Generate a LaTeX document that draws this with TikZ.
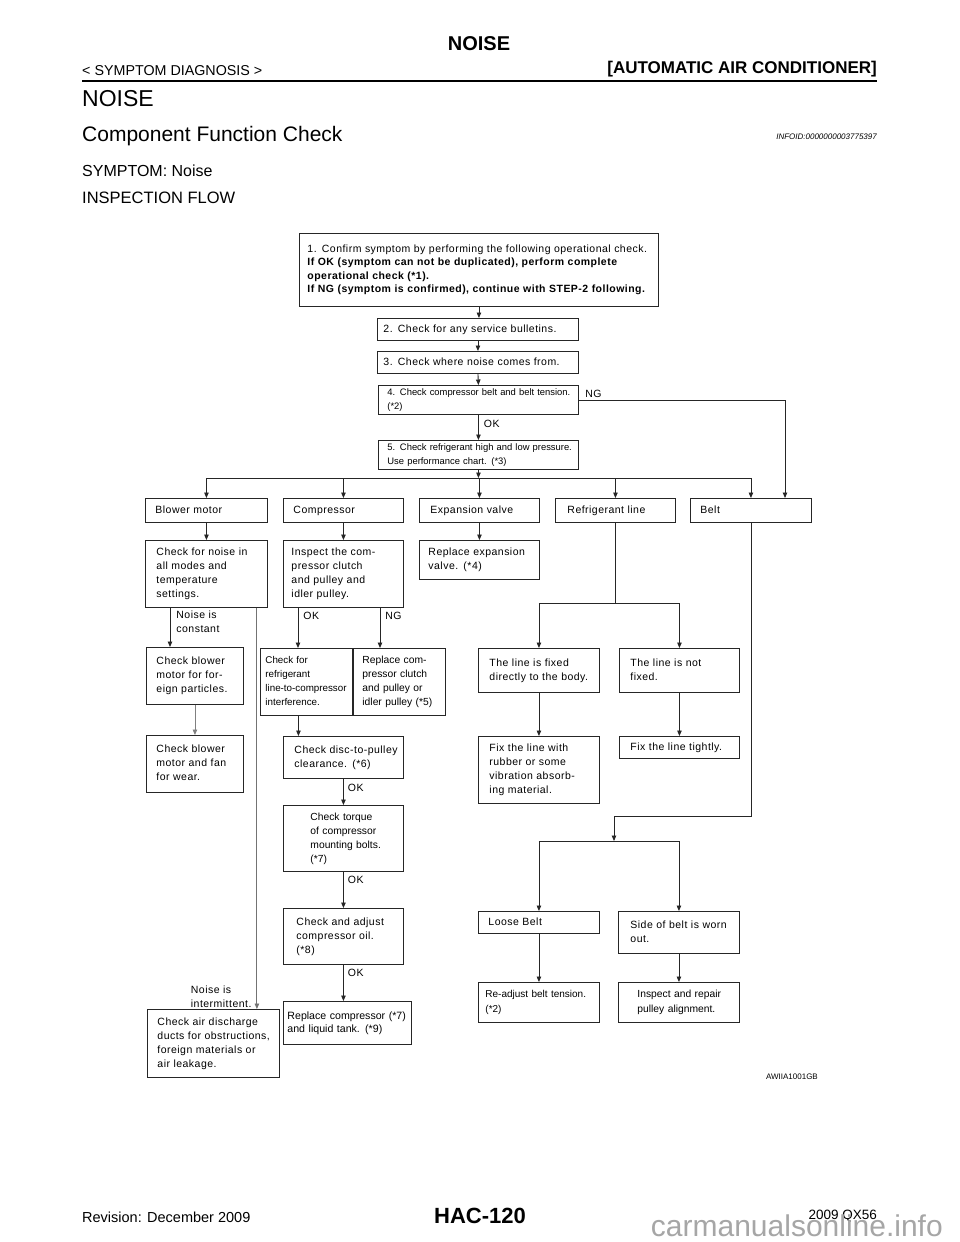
\documentclass[tikz,border=0pt]{standalone}
\usepackage{fontspec}
\setmainfont{Liberation Sans}
\newfontfamily\spfam[LetterSpace=4.5]{Liberation Sans}
\usetikzlibrary{arrows.meta}
\newcommand\FSp{\spfam\fontsize{10.5}{14}\selectfont}
\newcommand\FPl{\fontsize{10.3}{14}\selectfont}
\newcommand\lns[1]{\begin{tabular}{@{}l@{}}#1\end{tabular}}
\tikzset{
  box/.style={draw=black!85, line width=0.9pt, anchor=north west, inner ysep=0pt, align=left},
  arr/.style={draw=black!85, line width=0.9pt, -{Triangle[length=5.5pt,width=4.5pt]}},
  ln/.style={draw=black!85, line width=0.9pt},
  lab/.style={font=\FSp, inner sep=0pt, align=left},
  txt/.style={inner sep=0pt}
}
\begin{document}
\begin{tikzpicture}[x=1pt,y=-1pt]
\fill[white] (0,0) rectangle (960,1242);
\useasboundingbox (0,0) rectangle (960,1242);

% ---------- header ----------
\node[txt, anchor=base, font=\bfseries\fontsize{20}{24}\selectfont] (title) at (479,50) {NOISE};
\node[txt, anchor=base west, font=\fontsize{14.3}{17}\selectfont] (sec) at (82,75) {< SYMPTOM DIAGNOSIS >};
\node[txt, anchor=base east, font=\bfseries\fontsize{17}{20}\selectfont] (cat) at (877,73) {[AUTOMATIC AIR CONDITIONER]};
\draw[line width=2.5pt] (82,81) -- (877,81);
\node[txt, anchor=base west, font=\fontsize{23}{26}\selectfont] (h1) at (82,106) {NOISE};
\node[txt, anchor=base west, font=\fontsize{21}{24}\selectfont] (h2) at (82,141) {Component Function Check};
\node[txt, anchor=base east, font=\itshape\fontsize{8}{10}\selectfont] (info) at (877,139) {INFOID:0000000003775397};
\node[txt, anchor=base west, font=\fontsize{16}{19}\selectfont] (sym) at (82,176) {SYMPTOM: Noise};
\node[txt, anchor=base west, font=\fontsize{16.5}{19}\selectfont] (flow) at (82,203) {INSPECTION FLOW};

% ---------- boxes ----------
\node[box, font=\spfam\fontsize{10.5}{13.5}\selectfont, minimum width=359pt, minimum height=73pt, inner xsep=8pt, text width=343pt] (B1) at (299,233)
 {\lns{1. Confirm symptom by performing the following operational check.\\
 \bfseries If OK (symptom can not be duplicated), perform complete\\
 \bfseries operational check (*1).\\
 \bfseries If NG (symptom is confirmed), continue with STEP-2 following.}};
\node[box, font=\FSp, minimum width=201pt, minimum height=22pt, inner xsep=6pt, text width=189pt] (B2) at (377,318) {\lns{2. Check for any service bulletins.}};
\node[box, font=\FSp, minimum width=201pt, minimum height=22pt, inner xsep=6pt, text width=189pt] (B3) at (377,351) {\lns{3. Check where noise comes from.}};
\node[box, font=\fontsize{9.4}{14}\selectfont, minimum width=200pt, minimum height=29pt, inner xsep=9pt, text width=182pt] (B4) at (378,385) {\lns{4. Check compressor belt and belt tension.\\(*2)}};
\node[box, font=\fontsize{9.4}{14}\selectfont, minimum width=200pt, minimum height=29pt, inner xsep=9pt, text width=182pt] (B5) at (378,440) {\lns{5. Check refrigerant high and low pressure.\\Use performance chart. (*3)}};

\node[box, font=\FSp, minimum width=122pt, minimum height=24pt, inner xsep=10pt, text width=102pt] (R1) at (145,498) {\lns{Blower motor}};
\node[box, font=\FSp, minimum width=120pt, minimum height=24pt, inner xsep=10pt, text width=100pt] (R2) at (283,498) {\lns{Compressor}};
\node[box, font=\FSp, minimum width=120pt, minimum height=24pt, inner xsep=11pt, text width=98pt] (R3) at (419,498) {\lns{Expansion valve}};
\node[box, font=\FSp, minimum width=120pt, minimum height=24pt, inner xsep=12pt, text width=96pt] (R4) at (555,498) {\lns{Refrigerant line}};
\node[box, font=\FSp, minimum width=121pt, minimum height=24pt, inner xsep=10pt, text width=101pt] (R5) at (690,498) {\lns{Belt}};

\node[box, font=\FSp, minimum width=122pt, minimum height=67pt, inner xsep=11pt, text width=100pt] (C1) at (145,540) {\lns{Check for noise in\\all modes and\\temperature\\settings.}};
\node[box, font=\FSp, minimum width=120pt, minimum height=67pt, inner xsep=8pt, text width=104pt] (C2) at (283,540) {\lns{Inspect the com-\\pressor clutch\\and pulley and\\idler pulley.}};
\node[box, font=\FSp, minimum width=120pt, minimum height=39pt, inner xsep=9pt, text width=102pt] (C3) at (419,540) {\lns{Replace expansion\\valve. (*4)}};

\node[box, font=\FSp, minimum width=97pt, minimum height=57pt, inner xsep=10pt, text width=77pt] (D1) at (146,647) {\lns{Check blower\\motor for for-\\eign particles.}};
\node[box, font=\FSp, minimum width=97pt, minimum height=57pt, inner xsep=10pt, text width=77pt] (E1) at (146,735) {\lns{Check blower\\motor and fan\\for wear.}};
\node[box, font=\fontsize{9.8}{14}\selectfont, minimum width=92pt, minimum height=67pt, inner xsep=5pt, text width=82pt] (D2) at (260,648) {\lns{Check for\\refrigerant\\line-to-compressor\\interference.}};
\node[box, font=\fontsize{10.3}{14}\selectfont, minimum width=92pt, minimum height=67pt, inner xsep=9pt, text width=74pt] (D3) at (353,648) {\lns{Replace com-\\pressor clutch\\and pulley or\\idler pulley (*5)}};
\node[box, font=\FSp, minimum width=120pt, minimum height=42pt, inner xsep=11pt, text width=98pt] (E2) at (283,736) {\lns{Check disc-to-pulley\\clearance. (*6)}};
\node[box, font=\FPl, minimum width=120pt, minimum height=66pt, inner xsep=27pt, text width=66pt] (F) at (283,805) {\lns{Check torque\\of compressor\\mounting bolts.\\(*7)}};
\node[box, font=\FSp, minimum width=120pt, minimum height=56pt, inner xsep=13pt, text width=94pt] (G) at (283,908) {\lns{Check and adjust\\compressor oil.\\(*8)}};
\node[box, font=\fontsize{10.6}{13}\selectfont, minimum width=128pt, minimum height=43pt, inner xsep=4pt, text width=120pt] (H) at (283,1001) {\lns{Replace compressor (*7)\\and liquid tank. (*9)}};
\node[box, font=\FSp, minimum width=132pt, minimum height=68pt, inner xsep=10pt, text width=112pt] (I) at (147,1009) {\lns{Check air discharge\\ducts for obstructions,\\foreign materials or\\air leakage.}};

\node[box, font=\FSp, minimum width=121pt, minimum height=44pt, inner xsep=11pt, text width=99pt] (L1) at (478,648) {\lns{The line is fixed\\directly to the body.}};
\node[box, font=\FSp, minimum width=120pt, minimum height=44pt, inner xsep=11pt, text width=98pt] (L2) at (619,648) {\lns{The line is not\\fixed.}};
\node[box, font=\FSp, minimum width=121pt, minimum height=67pt, inner xsep=11pt, text width=99pt] (M1) at (478,736) {\lns{Fix the line with\\rubber or some\\vibration absorb-\\ing material.}};
\node[box, font=\FSp, minimum width=120pt, minimum height=22pt, inner xsep=11pt, text width=98pt] (M2) at (619,736) {\lns{Fix the line tightly.}};
\node[box, font=\FSp, minimum width=121pt, minimum height=22pt, inner xsep=10pt, text width=101pt] (N1) at (478,911) {\lns{Loose Belt}};
\node[box, font=\FSp, minimum width=121pt, minimum height=42pt, inner xsep=12pt, text width=97pt] (N2) at (618,911) {\lns{Side of belt is worn\\out.}};
\node[box, font=\fontsize{10}{15}\selectfont, minimum width=121pt, minimum height=40pt, inner xsep=7pt, text width=107pt] (P1) at (478,982) {\lns{Re-adjust belt tension.\\(*2)}};
\node[box, font=\fontsize{10.3}{15}\selectfont, minimum width=121pt, minimum height=40pt, inner xsep=19pt, text width=83pt] (P2) at (618,982) {\lns{Inspect and repair\\pulley alignment.}};

% ---------- helper coordinates ----------
\coordinate (bus) at (0,478);
\coordinate (rbus) at (0,603);
\coordinate (bturn) at (614,816);
\coordinate (bbus) at (0,841);
\coordinate (ngx) at (785,0);
\coordinate (c1a) at ([xshift=25pt]C1.south west);
\coordinate (c1b) at ([xshift=-11pt]C1.south east);
\coordinate (c2ok) at ([xshift=15pt]C2.south west);
\coordinate (c2ng) at ([xshift=97pt]C2.south west);
\coordinate (d2o) at ([xshift=-8pt]D2.south);

% ---------- connectors ----------
\draw[arr] (B1.south) -- (B1.south |- B2.north);
\draw[arr] (B2.south) -- (B3.north);
\draw[arr] (B3.south) -- (B4.north);
\draw[arr] (B4.south) -- node[lab, pos=0.35, anchor=west, xshift=5pt]{OK} (B5.north);
\draw[arr] (B4.east) -- node[lab, pos=0, anchor=west, xshift=6pt, yshift=6.5pt]{NG} (B4.east -| ngx) -- (ngx |- R5.north);
\draw[arr] (B5.south) -- (B5.south |- bus);
\draw[ln] (R1.north |- bus) -- (R5.north |- bus);
\foreach \n in {R1,R2,R3,R4,R5} \draw[arr] (\n.north |- bus) -- (\n.north);
\draw[arr] (R1.south) -- (C1.north);
\draw[arr] (R2.south) -- (C2.north);
\draw[arr] (R3.south) -- (C3.north);

\draw[ln] (R4.south) -- (R4.south |- rbus);
\draw[ln] (L1.north |- rbus) -- (L2.north |- rbus);
\draw[arr] (L1.north |- rbus) -- (L1.north);
\draw[arr] (L2.north |- rbus) -- (L2.north);
\draw[arr] (L1.south) -- (M1.north);
\draw[arr] (L2.south) -- (M2.north);

\draw[ln] (R5.south) -- (R5.south |- bturn) -- (bturn);
\draw[arr] (bturn) -- (bturn |- bbus);
\draw[ln] (N1.north |- bbus) -- (N2.north |- bbus);
\draw[arr] (N1.north |- bbus) -- (N1.north);
\draw[arr] (N2.north |- bbus) -- (N2.north);
\draw[arr] (N1.south) -- (P1.north);
\draw[arr] (N2.south) -- (P2.north);

\draw[arr] (c1a) -- node[lab, pos=0, anchor=north west, xshift=6pt, yshift=-3pt]{Noise is\\constant} (c1a |- D1.north);
\draw[arr, draw=black!55] (c1b) -- node[lab, pos=1, anchor=south east, xshift=-5pt, yshift=1pt]{Noise is\\intermittent.} (c1b |- I.north);
\draw[arr, draw=black!50] (D1.south) -- (E1.north);
\draw[arr] (c2ok) -- node[lab, pos=0, anchor=north west, xshift=5pt, yshift=-4pt]{OK} (c2ok |- D2.north);
\draw[arr] (c2ng) -- node[lab, pos=0, anchor=north west, xshift=5pt, yshift=-4pt]{NG} (c2ng |- D3.north);
\draw[arr] (d2o) -- (d2o |- E2.north);
\draw[arr] (E2.south) -- node[lab, pos=0.33, anchor=west, xshift=4pt]{OK} (F.north);
\draw[arr] (F.south) -- node[lab, pos=0.22, anchor=west, xshift=4pt]{OK} (G.north);
\draw[arr] (G.south) -- node[lab, pos=0.22, anchor=west, xshift=4pt]{OK} (G.south |- H.north);

% ---------- footer ----------
\node[txt, anchor=base east, font=\fontsize{8}{10}\selectfont] (code) at (818,1079) {AWIIA1001GB};
\node[txt, anchor=base west, font=\fontsize{14.5}{17}\selectfont] (rev) at (82,1222) {Revision: December 2009};
\node[txt, anchor=base, font=\bfseries\fontsize{22}{26}\selectfont] (page) at (480,1223) {HAC-120};
\node[txt, anchor=base east, font=\fontsize{13.5}{16}\selectfont] (model) at (877,1219) {2009 QX56};
\node[txt, anchor=base east, font=\fontsize{30}{34}\selectfont, text=black!35] (wm) at (943,1236) {carmanualsonline.info};
\end{tikzpicture}
\end{document}
